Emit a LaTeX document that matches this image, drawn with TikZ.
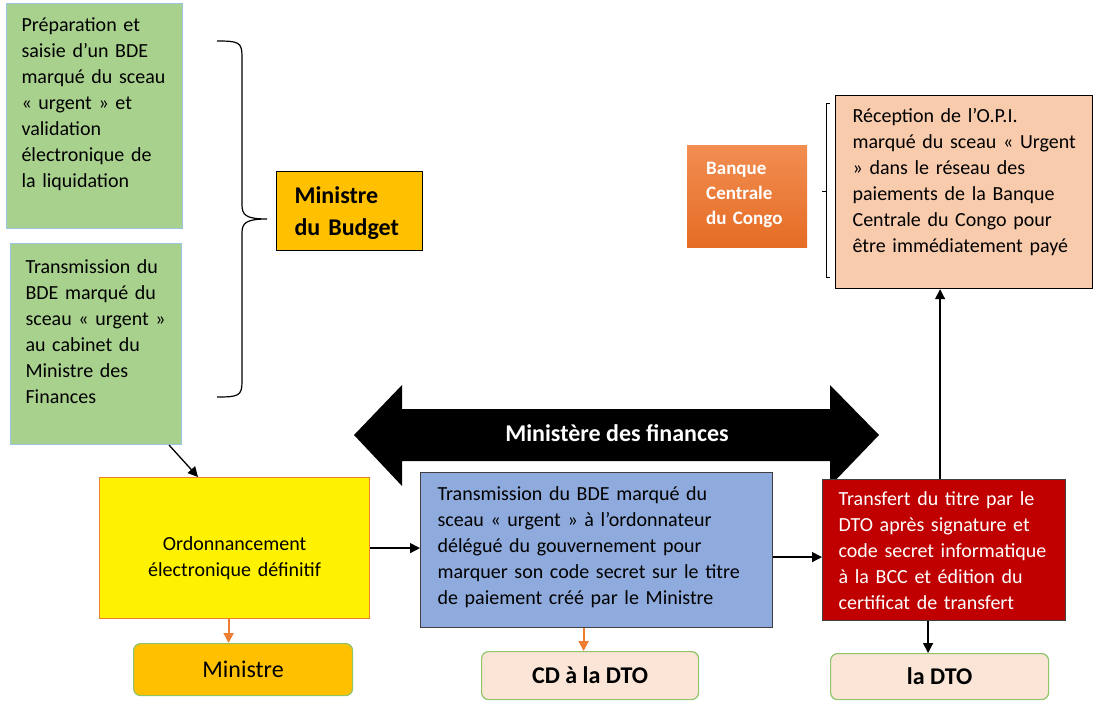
\documentclass[tikz,border=0pt]{standalone}
\usepackage{fontspec}
\setmainfont{Carlito}
\usetikzlibrary{arrows.meta}
\definecolor{vert}{HTML}{A9D18E}
\definecolor{bordbleu}{HTML}{9DC3E6}
\definecolor{or}{HTML}{FFC000}
\definecolor{peche}{HTML}{F8CBAD}
\definecolor{bleu}{HTML}{8FAADC}
\definecolor{rouge}{HTML}{C00000}
\definecolor{orange2}{HTML}{ED7D31}
\definecolor{rose}{HTML}{FBE5D6}
\definecolor{vertclair}{HTML}{8FC46A}
\definecolor{gris}{HTML}{404040}
\begin{document}
\begin{tikzpicture}
  [x=1pt,y=-1pt,every node/.style={inner ysep=0pt,align=left,font=\fontsize{20}{26}\selectfont}]
  \tikzstyle{etape} = [draw=bordbleu,fill=vert,line width=1pt,anchor=north west]
  \tikzstyle{boite} = [draw=gris,line width=1.2pt,anchor=north west]
  \tikzstyle{acteur} = [draw=vertclair,line width=1.2pt,rounded corners=7pt,anchor=north west,align=center,inner sep=0pt,font=\bfseries\fontsize{24}{28}\selectfont]
  \tikzstyle{fleche} = [-{Triangle[length=10pt,width=10pt]},line width=1.3pt]
  \useasboundingbox (0,0) rectangle (1093,702);

  \node[etape,inner xsep=15pt,text width=146pt,text height=28pt,text depth=197pt] (prep) at (6,3)
    {Préparation et\\saisie d’un BDE\\\mbox{marqué du sceau}\\« urgent » et\\validation\\électronique de\\la liquidation};
  \node[etape,inner xsep=15pt,text width=141pt,text height=30pt,text depth=171pt] (trans) at (10,243)
    {Transmission du\\BDE marqué du\\\mbox{sceau « urgent »}\\au cabinet du\\Ministre des\\Finances};
  \node[boite,draw=black,fill=or,inner xsep=18pt,text width=110pt,text height=32pt,text depth=47pt,
    font=\bfseries\fontsize{24}{32}\selectfont] (budget) at (276,171) {Ministre\\du Budget};

  % accolade
  \draw[line width=1.2pt] (217,41) .. controls (238,41) and (242,42) .. (242,56) -- (242,205)
    .. controls (242,215) and (246,219) .. (267,219) .. controls (246,219) and (242,223) .. (242,233)
    -- (242,382) .. controls (242,396) and (238,397) .. (217,397);

  \node[anchor=north west,top color={rgb,255:red,242;green,142;blue,82},bottom color={rgb,255:red,229;green,108;blue,36},
    text=white,inner xsep=19pt,text width=82pt,text height=29pt,text depth=73pt,
    font=\bfseries\fontsize{19}{25}\selectfont] (bcc) at (687,145) {Banque\\Centrale\\du Congo};
  \draw[line width=1pt] (830,103) -- (826,103) -- (826,277) -- (830,277) (826,191) -- (822,191);
  \node[boite,draw=black,fill=peche,inner xsep=17pt,text width=223pt,text height=27pt,text depth=166pt] (opi) at (835,95)
    {Réception de l’O.P.I.\\\mbox{marqué du sceau « Urgent}\\» dans le réseau des\\\mbox{paiements de la Banque}\\\mbox{Centrale du Congo pour}\\\mbox{être immédiatement payé}};

  % ministere des finances
  \fill (354,435) -- (402,385) -- (402,409) -- (830,409) -- (830,385) -- (879,435)
    -- (830,486) -- (830,461) -- (402,461) -- (402,486) -- cycle;
  \node[text=white,font=\bfseries\fontsize{24}{28}\selectfont] (mdf) at (617,433) {Ministère des finances};

  \node[boite,draw=orange2,fill=yellow,align=center,inner xsep=10pt,text width=250pt,text height=73pt,text depth=68pt] (ord) at (99,477)
    {Ordonnancement\\électronique définitif};
  \node[boite,fill=bleu,inner xsep=17pt,text width=318pt,text height=28pt,text depth=127pt] (blue) at (420,472)
    {Transmission du BDE marqué du\\sceau « urgent » à l’ordonnateur\\délégué du gouvernement pour\\marquer son code secret sur le titre\\de paiement créé par le Ministre};
  \node[boite,fill=rouge,text=white,inner xsep=16pt,text width=211pt,text height=26pt,text depth=115pt] (red) at (822,479)
    {Transfert du titre par le\\DTO après signature et\\\mbox{code secret informatique}\\à la BCC et édition du\\certificat de transfert};

  \node[acteur,fill=or,font=\fontsize{24}{28}\selectfont,minimum width=219pt,minimum height=52pt] (minb) at (133,643) {Ministre};
  \node[acteur,fill=rose,minimum width=217pt,minimum height=48pt] (cd) at (481,651) {CD à la DTO};
  \node[acteur,fill=rose,minimum width=218pt,minimum height=46pt] (dto) at (830,653) {la DTO};

  \draw[fleche] ([xshift=-13pt]trans.south east) -- ([xshift=99pt]ord.north west);
  \draw[fleche] (ord.east) -- (ord.east -| blue.west);
  \draw[fleche] ([yshift=-7pt]blue.east) -- ([yshift=-7pt]blue.east -| red.west);
  \draw[fleche] ([xshift=-4pt]red.north) -- ([xshift=-4pt]red.north |- opi.south);
  \draw[fleche] ([xshift=-16pt]red.south) -- ([xshift=-16pt]red.south |- dto.north);
  \foreach \from/\to/\dx in {ord/minb/-6,blue/cd/-13}
    \draw[fleche,orange2,line width=2pt] ([xshift=\dx pt]\from.south) -- ([xshift=\dx pt]\from.south |- \to.north);

\end{tikzpicture}
\end{document}
